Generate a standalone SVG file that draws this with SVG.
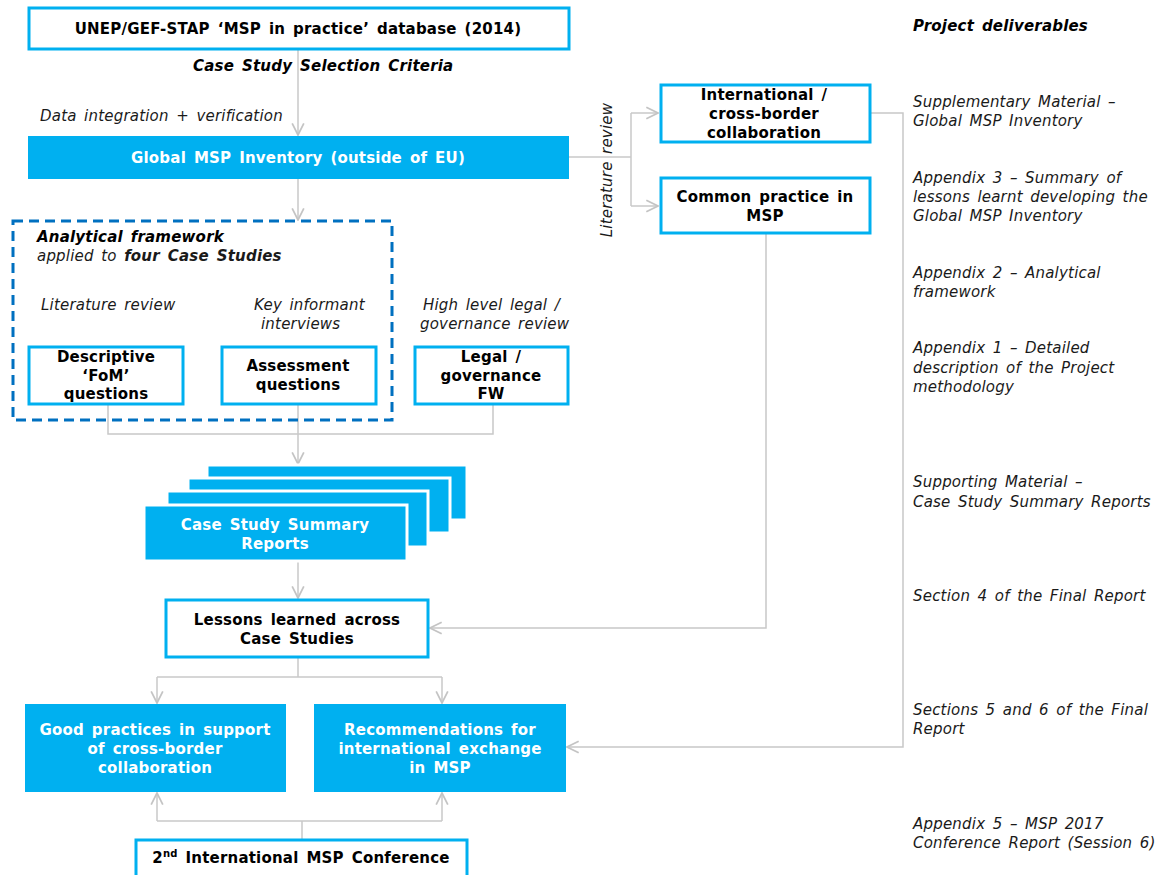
<svg xmlns="http://www.w3.org/2000/svg" width="1168" height="875" viewBox="0 0 1168 875">
<defs>
<marker id="arr" markerUnits="userSpaceOnUse" markerWidth="14" markerHeight="14" refX="11" refY="6" orient="auto" viewBox="0 0 12 12">
<path d="M1,1 L11,6 L1,11" fill="none" stroke="#C4C4C4" stroke-width="1.5"/>
</marker>
<style>
text{font-family:"DejaVu Sans",Verdana,sans-serif;font-size:15px;letter-spacing:0.2px;word-spacing:2.5px;fill:#000}
.b{font-weight:bold;text-anchor:middle}
.w{font-weight:bold;text-anchor:middle;fill:#fff}
.i{font-style:italic;fill:#1a1a1a}
.bi{font-style:italic;font-weight:bold}
.ob{fill:#fff;stroke:#00B0F0;stroke-width:3}
.fb{fill:#00B0F0}
.st{fill:#00B0F0;stroke:#fff;stroke-width:3}
.c{fill:none;stroke:#C8C8C8;stroke-width:1.5}
</style>
</defs>
<rect width="1168" height="875" fill="#fff"/>

<g id="connectors">
<path class="c" d="M298,49 V135" marker-end="url(#arr)"/>
<path class="c" d="M298,179 V220" marker-end="url(#arr)"/>
<path class="c" d="M569,157 H631"/>
<path class="c" d="M631,113 V206"/>
<path class="c" d="M631,113 H658" marker-end="url(#arr)"/>
<path class="c" d="M631,206 H658" marker-end="url(#arr)"/>
<path class="c" d="M871,113 H903 V747 H567" marker-end="url(#arr)"/>
<path class="c" d="M766,234 V628 H430" marker-end="url(#arr)"/>
<path class="c" d="M108,404 V434 H493 V404"/>
<path class="c" d="M298,404 V464" marker-end="url(#arr)"/>
<path class="c" d="M298,560 V598" marker-end="url(#arr)"/>
<path class="c" d="M298,658 V677"/>
<path class="c" d="M157,677 H442"/>
<path class="c" d="M157,677 V703" marker-end="url(#arr)"/>
<path class="c" d="M442,677 V703" marker-end="url(#arr)"/>
<path class="c" d="M302,839 V821"/>
<path class="c" d="M157,821 H442"/>
<path class="c" d="M157,821 V793" marker-end="url(#arr)"/>
<path class="c" d="M442,821 V793" marker-end="url(#arr)"/>
</g>

<g id="labels">
<text class="bi" x="193" y="71">Case Study  Selection  Criteria</text>
<text class="i" x="40" y="121">Data integration  + verification</text>
<text class="i" transform="translate(612,170) rotate(-90)" text-anchor="middle">Literature  review</text>
<text class="i" x="41" y="310">Literature  review</text>
<text class="i" x="254" y="310">Key informant</text>
<text class="i" x="261" y="329">interviews</text>
<text class="i" x="423" y="310">High level legal /</text>
<text class="i" x="420" y="329">governance  review</text>
</g>

<g id="deliverables">
<text class="bi" x="913" y="31">Project  deliverables</text>
<text class="i" x="913" y="107">Supplementary  Material –</text>
<text class="i" x="913" y="126">Global  MSP Inventory</text>
<text class="i" x="913" y="183">Appendix  3 – Summary  of</text>
<text class="i" x="913" y="202">lessons learnt developing  the</text>
<text class="i" x="913" y="221">Global  MSP Inventory</text>
<text class="i" x="913" y="278">Appendix  2 – Analytical</text>
<text class="i" x="913" y="297">framework</text>
<text class="i" x="913" y="353">Appendix  1 – Detailed</text>
<text class="i" x="913" y="373">description  of the Project</text>
<text class="i" x="913" y="392">methodology</text>
<text class="i" x="913" y="487">Supporting  Material –</text>
<text class="i" x="913" y="507">Case Study  Summary  Reports</text>
<text class="i" x="913" y="601">Section  4 of the Final Report</text>
<text class="i" x="913" y="715">Sections 5 and 6 of the Final</text>
<text class="i" x="913" y="734">Report</text>
<text class="i" x="913" y="829">Appendix  5 – MSP 2017</text>
<text class="i" x="913" y="848">Conference  Report  (Session  6)</text>
</g>

<g id="n-database">
<rect class="ob" x="29" y="8" width="540" height="41"/>
<text class="b" x="298" y="34">UNEP/GEF-STAP ‘MSP in  practice’ database  (2014)</text>
</g>

<g id="n-inventory">
<rect class="fb" x="28" y="136" width="541" height="43"/>
<text class="w" x="298" y="163">Global  MSP  Inventory  (outside  of  EU)</text>
</g>

<g id="n-international">
<rect class="ob" x="661" y="85" width="209" height="57"/>
<text class="b" x="764" y="100">International  /</text>
<text class="b" x="764" y="119">cross-border</text>
<text class="b" x="764" y="138">collaboration</text>
</g>

<g id="n-common">
<rect class="ob" x="661" y="178" width="209" height="55"/>
<text class="b" x="765" y="202">Common  practice  in</text>
<text class="b" x="765" y="221">MSP</text>
</g>

<g id="n-framework">
<rect x="13" y="221" width="379" height="199" fill="none" stroke="#0070C0" stroke-width="3" stroke-dasharray="10,6"/>
<text class="bi" x="37" y="242">Analytical  framework</text>
<text class="i" x="37" y="261">applied to <tspan font-weight="bold">four Case Studies</tspan></text>
</g>

<g id="n-descriptive">
<rect class="ob" x="29" y="347" width="154" height="57"/>
<text class="b" x="106" y="362">Descriptive</text>
<text class="b" x="106" y="381">‘FoM’</text>
<text class="b" x="106" y="399">questions</text>
</g>

<g id="n-assessment">
<rect class="ob" x="222" y="347" width="154" height="57"/>
<text class="b" x="298" y="371">Assessment</text>
<text class="b" x="298" y="390">questions</text>
</g>

<g id="n-legal">
<rect class="ob" x="415" y="347" width="153" height="57"/>
<text class="b" x="491" y="362">Legal  /</text>
<text class="b" x="491" y="381">governance</text>
<text class="b" x="491" y="399">FW</text>
</g>

<g id="n-reports">
<rect class="st" x="207" y="465" width="260" height="55"/>
<rect class="st" x="188" y="478" width="262" height="55"/>
<rect class="st" x="167" y="491" width="261" height="56"/>
<rect class="st" x="144" y="505" width="263" height="56"/>
<text class="w" x="275" y="530">Case Study  Summary</text>
<text class="w" x="275" y="549">Reports</text>
</g>

<g id="n-lessons">
<rect class="ob" x="166" y="600" width="262" height="57"/>
<text class="b" x="297" y="625">Lessons learned  across</text>
<text class="b" x="297" y="644">Case Studies</text>
</g>

<g id="n-good">
<rect class="fb" x="25" y="704" width="261" height="88"/>
<text class="w" x="155" y="735">Good  practices  in  support</text>
<text class="w" x="155" y="754">of  cross-border</text>
<text class="w" x="155" y="773">collaboration</text>
</g>

<g id="n-recommendations">
<rect class="fb" x="314" y="704" width="252" height="88"/>
<text class="w" x="440" y="735">Recommendations  for</text>
<text class="w" x="440" y="754">international  exchange</text>
<text class="w" x="440" y="773">in  MSP</text>
</g>

<g id="n-conference">
<rect class="ob" x="136" y="840" width="331" height="45"/>
<text class="b" x="301" y="863">2<tspan font-size="10" dy="-6">nd</tspan><tspan dy="6"> International  MSP Conference</tspan></text>
</g>
</svg>
